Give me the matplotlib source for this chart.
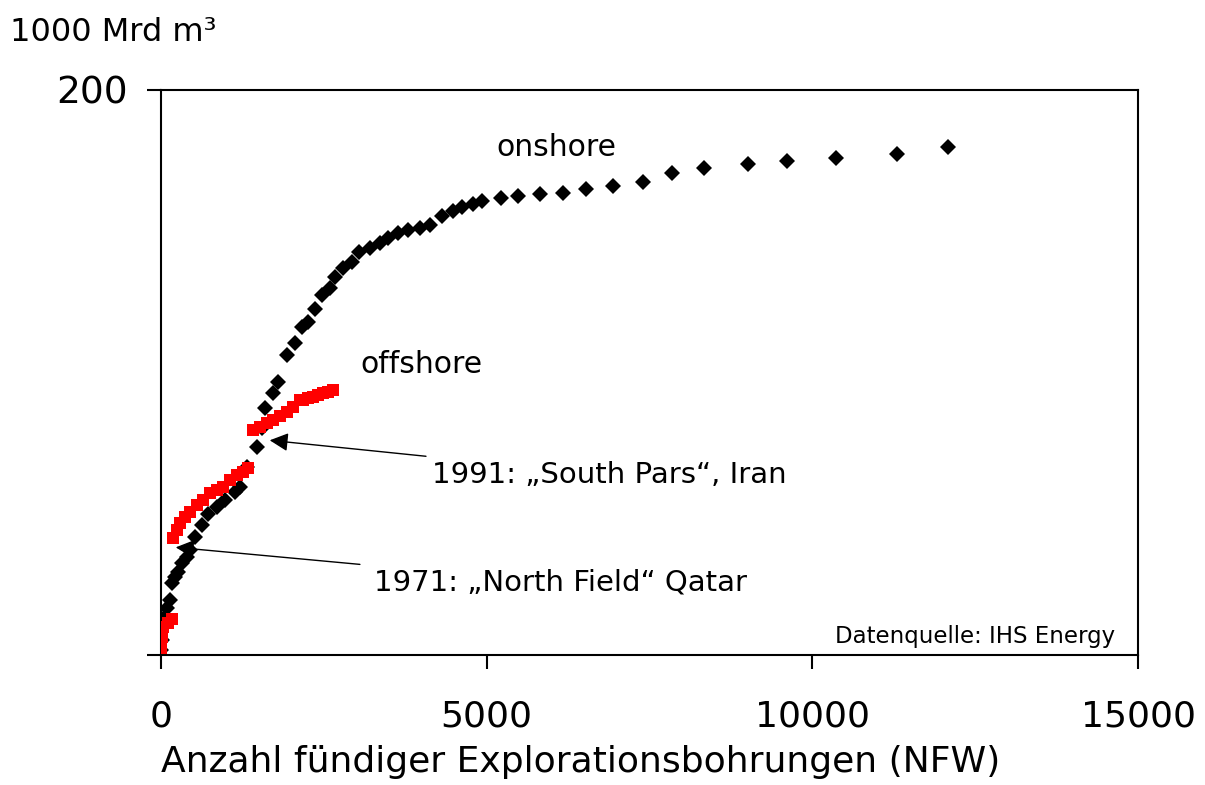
import numpy as np
import matplotlib.pyplot as plt

# onshore: cumulative gas discoveries (1000 Mrd m3) vs. number of successful wells
onshore_x = [0, 15, 31, 61, 92, 138, 169, 215, 261, 322, 399, 445, 522, 629, 722,
             860, 983, 1136, 1213, 1320, 1474, 1551, 1597, 1720, 1796, 1935, 2057,
             2165, 2257, 2364, 2472, 2595, 2672, 2795, 2933, 3040, 3209, 3362, 3485,
             3638, 3792, 3976, 4130, 4313, 4483, 4621, 4790, 4928, 5220, 5481, 5819,
             6172, 6525, 6940, 7400, 7845, 8337, 9012, 9611, 10363, 11300, 12083]
onshore_y = [1.8, 5.3, 9.9, 13.5, 16.6, 19.5, 25.5, 27.6, 29.4, 32.6, 34.7, 37.2, 41.8,
             46.0, 49.9, 52.4, 54.9, 57.7, 59.5, 66.5, 73.5, 80.4, 87.4, 92.7, 96.6,
             106.2, 110.4, 116.1, 117.9, 122.5, 127.4, 129.9, 133.8, 137.0, 139.1,
             142.7, 144.1, 145.8, 147.6, 149.4, 150.4, 151.1, 152.2, 155.4, 157.0,
             158.6, 159.6, 160.7, 161.9, 162.5, 163.2, 163.5, 165.0, 166.0, 167.4,
             170.6, 172.4, 173.8, 174.9, 176.0, 177.3, 179.8]

# offshore
offshore_x = [0, 15, 31, 107, 169, 184, 246, 292, 368, 445, 553, 645, 752, 860, 952,
              1059, 1167, 1259, 1336, 1413, 1520, 1627, 1720, 1827, 1935, 2027, 2134,
              2180, 2257, 2334, 2410, 2487, 2564, 2641]
offshore_y = [2.5, 6.4, 9.9, 11.3, 12.7, 41.4, 44.2, 46.7, 48.8, 50.6, 53.1, 54.9, 57.3,
              58.4, 59.5, 61.9, 63.7, 64.8, 66.2, 79.6, 80.7, 82.1, 83.2, 84.6, 86.0,
              87.8, 90.3, 90.3, 90.8, 91.3, 92.0, 92.7, 93.2, 93.8]

x_ticks = [0, 5000, 10000, 15000]
y_ticks = [0, 200]
y_tick_labels = ['', '200']

fig = plt.figure(figsize=(12.05, 7.85), dpi=100)
ax = fig.add_axes([0.1336, 0.1656, 0.8108, 0.7198])

ax.plot(onshore_x, onshore_y, 'D', color='black', ms=8.5, mew=0, zorder=3)
ax.plot(offshore_x, offshore_y, 's', color='#ff0000', ms=8, mew=0, zorder=4)

ax.set_xlim(0, 15000)
ax.set_ylim(0, 200)
ax.set_xticks(x_ticks)
ax.set_yticks(y_ticks)
ax.set_yticklabels(y_tick_labels)
ax.tick_params(axis='x', direction='out', length=10, width=1.5, labelsize=26, pad=22)
ax.tick_params(axis='y', direction='out', length=10, width=1.5, labelsize=27, pad=14)
for s in ax.spines.values():
    s.set_linewidth(1.5)

ax.set_xlabel('Anzahl fündiger Explorationsbohrungen (NFW)', fontsize=26)
ax.xaxis.set_label_coords(0.429, -0.160)
fig.text(0.008, 0.958, '1000 Mrd m³', fontsize=23, ha='left', va='center')

ax.text(6065, 179.8, 'onshore', fontsize=21.5, ha='center', va='center')
ax.text(3992, 102.7, 'offshore', fontsize=21.5, ha='center', va='center')
ax.text(14646, 6.4, 'Datenquelle: IHS Energy', fontsize=16.5, ha='right', va='center')

arrow = dict(arrowstyle='-|>', color='black', lw=1, mutation_scale=28, shrinkA=14)
ax.annotate('1991: „South Pars“, Iran', xy=(1627, 76.1), xytext=(4160, 63.7),
            fontsize=21, ha='left', va='center', arrowprops=arrow)
ax.annotate('1971: „North Field“ Qatar', xy=(184, 38.2), xytext=(3270, 25.5),
            fontsize=21, ha='left', va='center', arrowprops=arrow)

plt.savefig('out.png', dpi=100)
